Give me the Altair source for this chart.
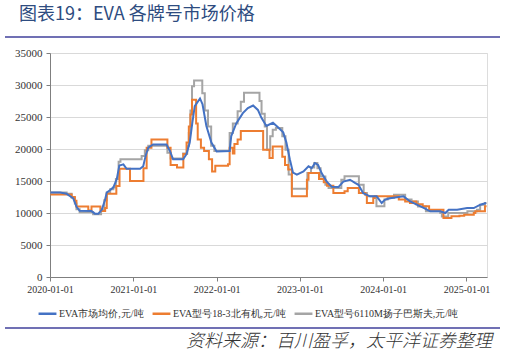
import altair as alt
import pandas as pd

# ---------------- data ----------------
series_names = ["EVA市场均价,元/吨", "EVA型号18-3北有机,元/吨", "EVA型号6110M扬子巴斯夫,元/吨"]
series_colors = ["#4472C4", "#ED7D31", "#A5A5A5"]

blue_dates = ["2020-01-03","2020-02-14","2020-03-14","2020-04-12","2020-04-26","2020-05-10","2020-07-01","2020-07-16","2020-07-31","2020-08-15",
              "2020-08-29","2020-09-06","2020-09-21","2020-10-05","2020-10-20","2020-10-31","2020-11-18","2020-12-02","2021-01-30","2021-02-13",
              "2021-02-24","2021-03-07","2021-03-28","2021-05-26","2021-06-10","2021-06-24","2021-08-07","2021-08-22","2021-09-05","2021-09-16",
              "2021-09-27","2021-10-20","2021-10-31","2021-11-17","2021-12-09","2022-01-01","2022-02-27","2022-03-06","2022-03-28","2022-04-26",
              "2022-05-18","2022-06-10","2022-07-01","2022-07-16","2022-08-07","2022-09-05","2022-09-27","2022-10-20","2022-11-03","2022-11-18",
              "2022-12-02","2022-12-19","2023-01-17","2023-02-08","2023-02-22","2023-03-08","2023-03-22","2023-04-07","2023-04-29","2023-05-21",
              "2023-06-19","2023-07-11","2023-08-09","2023-08-31","2023-09-15","2023-10-06","2023-11-05","2023-12-04","2023-12-26","2024-01-10",
              "2024-02-01","2024-03-31","2024-04-29","2024-05-28","2024-06-27","2024-07-26","2024-09-08","2024-09-30","2024-10-15","2024-11-21",
              "2025-01-04","2025-02-02","2025-03-03","2025-03-28"]
blue_vals = [13200,13200,13000,12300,11000,10340,10300,9900,9900,10500,
             12000,13200,13600,14000,15300,17400,17600,16900,16900,17300,
             19000,20200,20700,20700,19700,18400,18400,19200,21000,24000,
             26700,27900,27000,23600,21000,19600,19700,22000,24000,25600,
             26400,26800,26100,24900,23600,24100,23400,22600,21000,18400,
             16300,16000,16500,17300,17000,17800,17500,16200,14900,14100,
             14050,14900,15200,14700,14400,13100,12600,12600,11560,12100,
             12300,12600,11800,11300,10800,10260,10260,10000,10500,10520,
             10770,10770,11300,11560]

orange_dates = ["2020-01-03","2020-04-05","2020-04-19","2020-04-26","2020-06-17","2020-07-01","2020-08-09","2020-08-30","2020-09-06","2020-10-18",
                "2020-11-01","2020-12-17","2021-02-14","2021-02-28","2021-03-21","2021-05-30","2021-06-13","2021-07-11","2021-08-08","2021-08-22",
                "2021-09-01","2021-09-08","2021-09-15","2021-10-03","2021-10-10","2021-10-24","2021-11-07","2021-11-28","2021-12-12","2021-12-26",
                "2022-02-20","2022-02-27","2022-03-13","2022-03-20","2022-04-03","2022-04-17","2022-07-24","2022-08-21","2022-09-04","2022-10-16",
                "2022-10-28","2022-11-11","2022-11-27","2023-02-01","2023-02-08","2023-03-26","2023-04-16","2023-04-30","2023-05-28","2023-07-16",
                "2023-07-30","2023-09-17","2023-10-15","2023-10-22","2023-11-19","2023-11-26","2024-03-10","2024-04-07","2024-04-28","2024-05-12",
                "2024-05-26","2024-06-23","2024-07-21","2024-09-22","2024-10-27","2024-12-01","2024-12-22","2025-02-02","2025-02-09","2025-03-23",
                "2025-03-30"]
orange_vals = [12900,12500,11900,11000,10400,11000,10300,10800,13000,14200,
               16900,15000,17000,20200,21500,20200,17500,17100,19200,21000,
               23500,25400,27700,24000,21500,20200,19700,18400,16500,17400,
               17600,20200,19300,20800,21500,22800,19900,18600,20400,18800,
               17500,16800,12600,15200,16250,15300,14800,14270,13120,13400,
               13900,13120,12860,11560,12340,12600,12100,11810,11560,11810,
               11350,11040,10520,9220,9480,9580,9740,10000,10260,11040,
               11040]

gray_dates = ["2020-01-03","2020-03-14","2020-04-05","2020-04-19","2020-04-26","2020-05-10","2020-07-08","2020-08-12","2020-08-26","2020-09-06",
              "2020-09-21","2020-10-05","2020-10-16","2020-10-28","2020-11-05","2021-02-06","2021-02-20","2021-03-07","2021-05-30","2021-06-13",
              "2021-08-07","2021-08-25","2021-09-01","2021-09-08","2021-09-15","2021-09-24","2021-10-30","2021-11-10","2021-11-24","2021-12-08",
              "2021-12-22","2022-02-27","2022-03-13","2022-04-03","2022-04-17","2022-05-01","2022-07-08","2022-07-17","2022-07-31","2022-08-10",
              "2022-08-24","2022-09-04","2022-09-18","2022-10-16","2022-10-30","2022-11-13","2022-11-27","2023-02-03","2023-02-19","2023-03-05",
              "2023-03-19","2023-04-02","2023-04-23","2023-05-07","2023-07-02","2023-07-16","2023-09-17","2023-10-08","2023-10-22","2023-12-03",
              "2024-01-07","2024-01-21","2024-02-18","2024-04-07","2024-05-05","2024-06-02","2024-07-07","2024-09-08","2024-09-15","2024-10-13",
              "2025-01-05","2025-02-16","2025-03-02","2025-03-23","2025-03-30"]
gray_vals = [13200,13000,12400,11500,10600,10100,9800,10500,12000,13200,
             13700,14000,15300,18000,18400,18900,19800,20500,19400,18500,
             19300,20500,22500,26000,29800,30700,28700,26000,23500,20500,
             19700,22500,24000,25900,27400,28800,27500,25500,23500,19900,
             22000,23000,23300,22000,19900,16000,13800,16250,17100,17800,
             17000,15700,14400,13900,15200,15730,14400,13120,12600,11040,
             12100,12400,12860,12100,11810,11000,10260,10000,9470,10000,
             10260,10500,11300,11560,11560]

y_ticks = [0, 5000, 10000, 15000, 20000, 25000, 30000, 35000]
x_ticks = ["2020-01-01", "2021-01-01", "2022-01-01", "2023-01-01", "2024-01-01", "2025-01-01"]
title_text = "图表19：EVA 各牌号市场价格"
source_text = "资料来源：百川盈孚，太平洋证券整理"

assert len(blue_dates) == len(blue_vals)
assert len(orange_dates) == len(orange_vals)
assert len(gray_dates) == len(gray_vals)

def frame(dates, vals, name):
    return pd.DataFrame({"date": dates, "value": vals, "series": name})

blue_df = frame(blue_dates, blue_vals, series_names[0])
orange_df = frame(orange_dates, orange_vals, series_names[1])
gray_df = frame(gray_dates, gray_vals, series_names[2])

# ---------------- chart ----------------
x_enc = alt.X("date:T",
              scale=alt.Scale(domain=["2020-01-01", "2025-04-01"]),
              axis=alt.Axis(values=x_ticks, format="%Y-%m-%d", title=None, grid=False,
                            labelFont="Liberation Serif", labelFontSize=10, labelColor="#333333",
                            domainColor="#7F7F7F", tickColor="#7F7F7F", tickSize=4,
                            labelPadding=3, labelFlush=False))
y_enc = alt.Y("value:Q",
              scale=alt.Scale(domain=[0, 35000], nice=False),
              axis=alt.Axis(values=y_ticks, format="d", title=None, grid=True, gridColor="#D9D9D9",
                            labelFont="Liberation Serif", labelFontSize=11, labelColor="#333333",
                            domainColor="#7F7F7F", tickColor="#7F7F7F", tickSize=4,
                            labelPadding=4))
color_enc = alt.Color("series:N",
                      scale=alt.Scale(domain=series_names, range=series_colors),
                      sort=series_names,
                      legend=alt.Legend(title=None, orient="none", direction="horizontal",
                                        legendX=-13, legendY=250,
                                        symbolType="stroke", symbolSize=320, symbolStrokeWidth=2.5,
                                        labelFont="Liberation Serif", labelFontSize=10,
                                        labelColor="#333333", columnPadding=3, symbolOffset=0,
                                        labelOffset=1))

gray_line = alt.Chart(gray_df).mark_line(interpolate="step-after", strokeWidth=2).encode(
    x=x_enc, y=y_enc, color=color_enc)
orange_line = alt.Chart(orange_df).mark_line(interpolate="step-after", strokeWidth=2).encode(
    x=x_enc, y=y_enc, color=color_enc)
blue_line = alt.Chart(blue_df).mark_line(strokeWidth=2).encode(
    x=x_enc, y=y_enc, color=color_enc)

one = pd.DataFrame({"t": [title_text], "s": [source_text]})

title_mark = alt.Chart(one).mark_text(align="left", baseline="middle", font="Noto Sans CJK SC",
                                      fontSize=18, fontWeight="normal", color="#2E4C80").encode(
    x=alt.value(-31), y=alt.value(-38), text="t:N")
source_mark = alt.Chart(one).mark_text(align="right", baseline="middle", font="Noto Sans CJK SC",
                                       fontSize=18, fontWeight=300, fontStyle="italic", color="#333333").encode(
    x=alt.value(442), y=alt.value(289), text="s:N")
top_rule = alt.Chart(one).mark_rule(color="#7070B4", strokeWidth=1.8).encode(
    x=alt.value(-45), x2=alt.value(450), y=alt.value(-16))
bottom_rule = alt.Chart(one).mark_rule(color="#7070B4", strokeWidth=1.8).encode(
    x=alt.value(-45), x2=alt.value(450), y=alt.value(275))

chart = alt.layer(gray_line, orange_line, blue_line, title_mark, source_mark, top_rule, bottom_rule).properties(
    width=437, height=224,
    padding={"left": 50, "top": 53, "right": 20, "bottom": 78},
    autosize=alt.AutoSizeParams(type="none"),
).configure_view(stroke=None).configure(background="white")

chart.save("out.html", embed_options={"renderer": "svg", "actions": False})
